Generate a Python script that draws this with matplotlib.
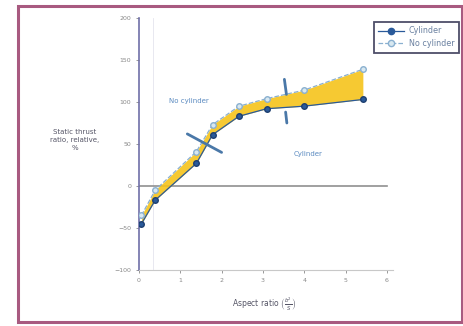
import matplotlib
matplotlib.use("Agg")
import matplotlib.pyplot as plt
from matplotlib.patches import Rectangle
from matplotlib.lines import Line2D

# Data
aspect = [0.06, 0.39, 1.39, 1.78, 2.42, 3.09, 3.99, 5.42]
cylinder = [-45, -17, 27, 61, 83, 92, 95, 103]
no_cylinder = [-35, -5, 41, 73, 95, 104, 114, 139]
xticks = [0, 1, 2, 3, 4, 5, 6]
yticks = [-100, -50, 0, 50, 100, 150, 200]
series_names = ["Cylinder", "No cylinder"]

# short marker strokes (crossing ticks) in data coords: (x0, y0, x1, y1)
strokes = [(1.17, 62, 2.0, 40), (3.52, 127, 3.57, 109), (3.55, 88, 3.58, 75)]

fig = plt.figure(figsize=(4.63, 3.26), dpi=100)
fig.patch.set_facecolor("white")
fig.add_artist(Rectangle((18/463, 1-322/326), (462-18)/463, (322-6)/326,
                         transform=fig.transFigure, fill=False,
                         edgecolor="#a85a80", linewidth=2.2))

ax = fig.add_axes([139/463, 1-270/326, (393-139)/463, (270-18)/326])
ax.set_xlim(0, 6.15)
ax.set_ylim(-100, 200)

ax.fill_between(aspect, cylinder, no_cylinder, color="#f5c31c", alpha=0.9, zorder=2, linewidth=0)
ax.axhline(0, color="#909090", linewidth=1.2, xmax=0.975, zorder=1)
ax.axvline(0.35, color="#e4e4ee", linewidth=0.6, zorder=0)

ax.plot(aspect, cylinder, color="#2a5a9a", linewidth=0.9, marker="o", markersize=4,
        markerfacecolor="#2a5a9a", markeredgecolor="#1e3f70", zorder=4, label=series_names[0])
ax.plot(aspect, no_cylinder, color="#8ab0d0", linewidth=0.9, linestyle="--", marker="o",
        markersize=4, markerfacecolor="#d8e8f0", markeredgecolor="#8ab0d0", zorder=4,
        label=series_names[1])

for x0, y0, x1, y1 in strokes:
    ax.plot([x0, x1], [y0, y1], color="#4a78a8", linewidth=2, solid_capstyle="round", zorder=5)

ax.text(1.2, 101, "No cylinder", color="#5a8ac0", fontsize=5, ha="center", va="center")
ax.text(4.1, 38, "Cylinder", color="#5a8ac0", fontsize=5, ha="center", va="center")

ax.set_xticks(xticks)
ax.set_yticks(yticks)
ax.tick_params(labelsize=4.5, colors="#888888", length=2, width=0.6)
for s in ["top", "right"]:
    ax.spines[s].set_visible(False)
ax.spines["left"].set_color("#7070a8")
ax.spines["left"].set_linewidth(1.2)
ax.spines["bottom"].set_color("#c8c8c8")
ax.spines["bottom"].set_linewidth(0.8)

fig.text(75/463, 1-140/326, "Static thrust\nratio, relative,\n%", fontsize=5,
         ha="center", va="center", color="#555566", linespacing=1.3)
fig.text(264/463, 1-304/326, r"Aspect ratio $\left(\frac{b^2}{S}\right)$", fontsize=5.5,
         ha="center", va="center", color="#555566")

handles = [Line2D([], [], color="#2a5a9a", marker="o", markersize=4.5, linewidth=0.9),
           Line2D([], [], color="#8ab0d0", linestyle="--", marker="o", markersize=4.5,
                  markerfacecolor="#d8e8f0", linewidth=0.9)]
leg = fig.legend(handles, series_names, loc="upper right",
                 bbox_to_anchor=(463/463, 1-18/326), fontsize=5.8, frameon=True,
                 fancybox=False, borderpad=0.55, handlelength=3.2, labelspacing=0.45,
                 handletextpad=0.6)
leg.get_frame().set_edgecolor("#222244")
leg.get_frame().set_linewidth(1.3)
for t in leg.get_texts():
    t.set_color("#6a80a0")

fig.savefig("out.png", dpi=100)
